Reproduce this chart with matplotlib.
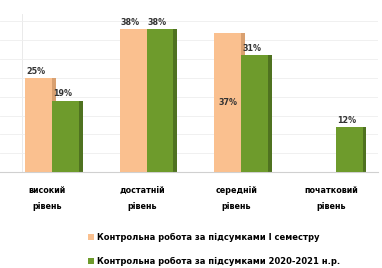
import matplotlib
matplotlib.use("Agg")
import matplotlib.pyplot as plt
import numpy as np
from matplotlib.patches import Patch

categories = ["високий\nрівень", "достатній\nрівень", "середній\nрівень", "початковий\nрівень"]
series_names = ["Контрольна робота за підсумками І семестру",
                "Контрольна робота за підсумками 2020-2021 н.р."]
sem1 = [25, 38, 37, 0]
year = [19, 38, 31, 12]
colors = ["#FAC08F", "#6E9B2C"]
side_colors = ["#D9A070", "#4F7220"]

fig = plt.figure(figsize=(3.82, 2.68), dpi=100)
ax = fig.add_axes([0.0, 0.358, 0.99, 0.59])
x = np.arange(len(categories))
w = 0.285
shift = 0.05
for i, (vals, c, sc) in enumerate(zip([sem1, year], colors, side_colors)):
    pos = x + (i - 0.5) * w + shift
    ax.bar(pos, vals, w, color=c, zorder=3)
    ax.bar(pos + w / 2 + 0.02, vals, 0.04, color=sc, zorder=2)
    for p, v in zip(pos, vals):
        if v == 0:
            continue
        if i == 0 and v == 37:
            ax.text(p, v * 0.5, f"{v}%", ha="center", va="center", fontsize=5.8,
                    fontweight="bold", color="#333333", zorder=4)
        else:
            ax.text(p - 0.03, v + 0.6, f"{v}%", ha="center", va="bottom", fontsize=5.8,
                    fontweight="bold", color="#333333", zorder=4)

ax.set_xlim(-0.5, 3.5)
ax.set_ylim(0, 42)
ax.set_yticks(np.arange(0, 43, 5))
ax.yaxis.grid(True, color="#EEEEEE", lw=0.6, zorder=0)
ax.set_yticklabels([])
ax.tick_params(axis="y", length=0)
ax.tick_params(axis="x", length=0, pad=10)
ax.set_xticks(x)
ax.set_xticklabels(categories, fontsize=5.8, fontweight="bold", linespacing=2.0)
for s in ["top", "right", "left"]:
    ax.spines[s].set_visible(False)
ax.axvline(-0.27, color="#E6E6E6", lw=0.6, zorder=0)
ax.spines["bottom"].set_color("#D0D0D0")

handles = [Patch(facecolor=c, edgecolor="none") for c in colors]
fig.legend(handles, series_names, loc="upper left", bbox_to_anchor=(0.21, 0.16),
           frameon=False, prop={"weight": "bold", "size": 6.0},
           handlelength=0.7, handleheight=0.7, handletextpad=0.4, labelspacing=1.8)

fig.savefig("out.png", dpi=100)
